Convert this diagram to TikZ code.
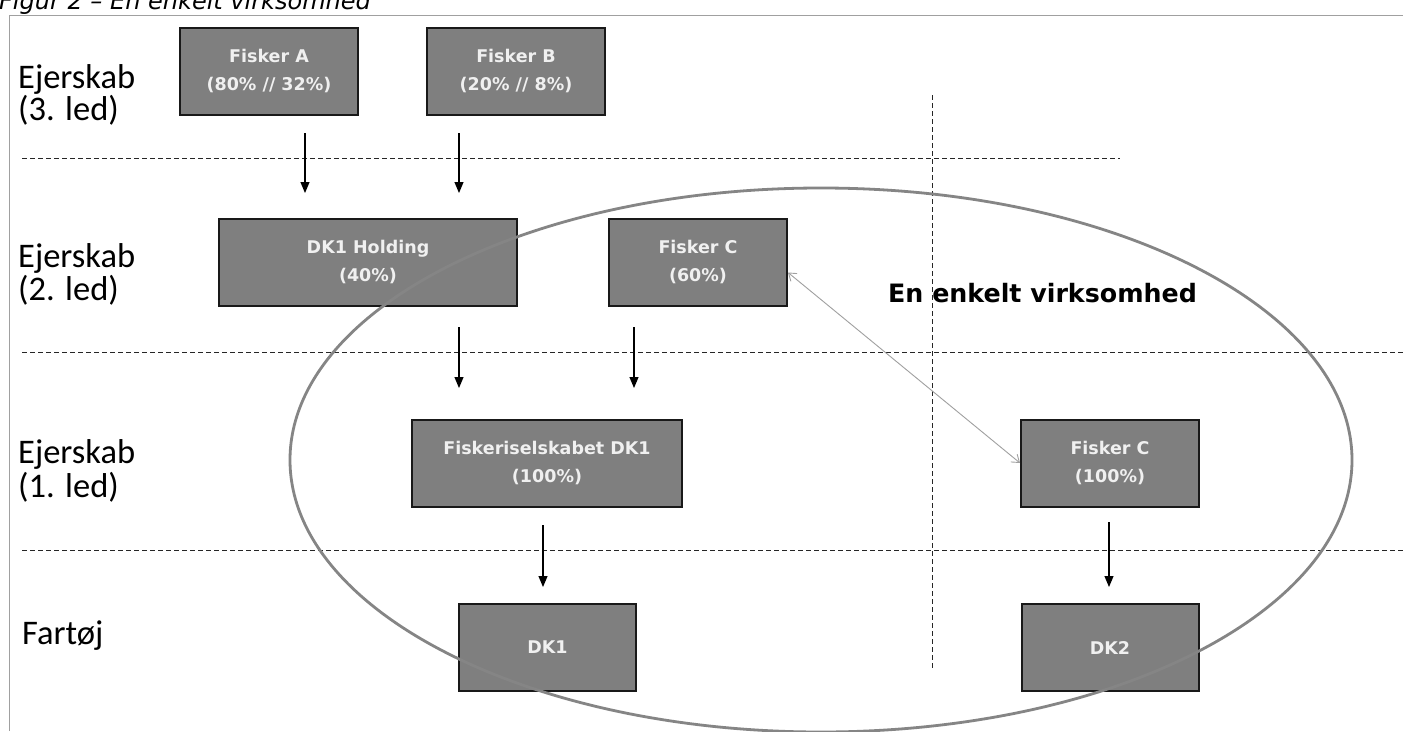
\documentclass[tikz,border=0pt]{standalone}
\usepackage{fontspec}
\setmainfont{Carlito}
\newfontfamily\dvs{DejaVu Sans}
\usetikzlibrary{arrows.meta}
\definecolor{boxgray}{HTML}{7F7F7F}
\definecolor{ringgray}{HTML}{858585}
\definecolor{linkgray}{HTML}{A0A0A0}
\begin{document}
\begin{tikzpicture}[x=1pt,y=-1pt,
  fbox/.style={draw=black!90, line width=2pt, fill=boxgray, text=white!94!black,
    font=\dvs\bfseries\fontsize{17.5}{28}\selectfont, align=center, inner sep=0pt,
    minimum height=87pt},
  lbl/.style={anchor=base west, font=\fontsize{34.5}{34}\selectfont, inner sep=0pt},
  down/.style={-{Triangle[length=11pt,width=9pt]}, line width=1.1pt},
  sep/.style={dash pattern=on 5pt off 3pt, line width=0.9pt, black!85},
  ttl/.style={anchor=base west, inner sep=0pt}
]
\clip (0,0) rectangle (1403,731);
\fill[white] (0,0) rectangle (1403,731);

% title and frame
\node[ttl, font=\dvs\itshape\fontsize{24}{28}\selectfont] (title) at (-1,9) {Figur 2 – En enkelt virksomhed};
\draw[linkgray, line width=0.8pt] (9,731) -- (9,15) -- (1403,15);

% separators
\draw[sep] (22,158) -- (1120,158);
\draw[sep] (22,352) -- (1403,352);
\draw[sep] (22,550) -- (1403,550);
\draw[sep] (932,95) -- (932,668);

% row labels
\node[lbl] (l3a) at (18,88) {Ejerskab};
\node[lbl] (l3b) at (18,120) {(3. led)};
\node[lbl] (l2a) at (18,267) {Ejerskab};
\node[lbl] (l2b) at (18,300) {(2. led)};
\node[lbl] (l1a) at (18,463) {Ejerskab};
\node[lbl] (l1b) at (18,497) {(1. led)};
\node[lbl] (lf) at (22,644) {Fartøj};

% boxes
\node[fbox, minimum width=178pt] (A) at (269,71) {Fisker A\\(80\% // 32\%)};
\node[fbox, minimum width=178pt] (B) at (516,71) {Fisker B\\(20\% // 8\%)};
\node[fbox, minimum width=298pt] (H) at (368,262.5) {DK1 Holding\\(40\%)};
\node[fbox, minimum width=178pt] (C60) at (698,262.5) {Fisker C\\(60\%)};
\node[fbox, minimum width=270pt] (F1) at (547,463) {Fiskeriselskabet DK1\\(100\%)};
\node[fbox, minimum width=178pt] (C100) at (1110,463) {Fisker C\\(100\%)};
\node[fbox, minimum width=177pt] (DK1) at (547.5,647.5) {DK1};
\node[fbox, minimum width=177pt] (DK2) at (1110,647.5) {DK2};

% arrows
\coordinate (a1s) at (305,133); \coordinate (a1e) at (305,193);
\coordinate (a2s) at (459,133); \coordinate (a2e) at (459,193);
\coordinate (a3s) at (459,327); \coordinate (a3e) at (459,388);
\coordinate (a4s) at (634,327); \coordinate (a4e) at (634,388);
\coordinate (a5s) at (543,525); \coordinate (a5e) at (543,587);
\coordinate (a6s) at (1109,522); \coordinate (a6e) at (1109,587);
\draw[down] (a1s) -- (a1e);
\draw[down] (a2s) -- (a2e);
\draw[down] (a3s) -- (a3e);
\draw[down] (a4s) -- (a4e);
\draw[down] (a5s) -- (a5e);
\draw[down] (a6s) -- (a6e);

% group ellipse
\draw[ringgray, line width=2.8pt] (821,460) ellipse [x radius=531pt, y radius=272pt];
\node[ttl, font=\dvs\bfseries\fontsize{25.3}{30}\selectfont] (grp) at (888,302) {En enkelt virksomhed};

% link between Fisker C nodes
\draw[linkgray, line width=0.9pt, {Straight Barb[length=7pt,width=10pt]}-{Straight Barb[length=7pt,width=10pt]}]
  ([yshift=-10pt]C60.east) -- (C100.west);
\end{tikzpicture}
\end{document}
